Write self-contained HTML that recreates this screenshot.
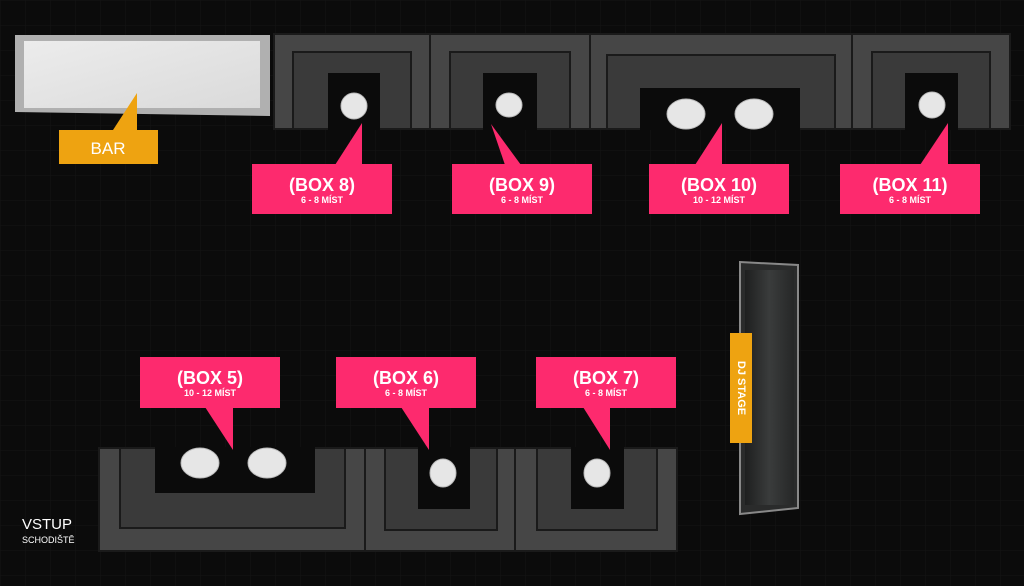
<!DOCTYPE html>
<html><head><meta charset="utf-8"><style>
html,body{margin:0;padding:0;background:#0b0b0b;}
body{width:1024px;height:586px;overflow:hidden;position:relative;font-family:"Liberation Sans","DejaVu Sans",sans-serif;}
svg{position:absolute;left:0;top:0;}
</style></head><body>
<svg width="1024" height="586" viewBox="0 0 1024 586" xmlns="http://www.w3.org/2000/svg">
<defs>
<pattern id="g" width="25" height="25" patternUnits="userSpaceOnUse">
<path d="M25 0H0V25" fill="none" stroke="#151515" stroke-width="1"/>
</pattern>
<linearGradient id="bar" x1="0" y1="0" x2="1" y2="1">
<stop offset="0" stop-color="#ececec"/><stop offset="1" stop-color="#dadada"/>
</linearGradient>
<linearGradient id="dj" x1="0" y1="0" x2="1" y2="0">
<stop offset="0" stop-color="#1e1f1f"/><stop offset="0.5" stop-color="#3a3c3c"/><stop offset="1" stop-color="#262727"/>
</linearGradient>
</defs>
<rect width="1024" height="586" fill="#0b0b0b"/>
<rect width="1024" height="586" fill="url(#g)"/>

<!-- BAR -->
<polygon points="15,35 270,35 270,116 15,112" fill="#b0b0b0"/>
<rect x="24" y="41" width="236" height="67" fill="url(#bar)"/>

<!-- top sofas -->
<g stroke="#1a1a1a" stroke-width="2">
<rect x="274" y="34" width="156" height="95" fill="#464646"/>
<rect x="293" y="52" width="118" height="77" fill="#3a3a3a"/>
<rect x="430" y="34" width="160" height="95" fill="#464646"/>
<rect x="450" y="52" width="120" height="77" fill="#3a3a3a"/>
<rect x="590" y="34" width="262" height="95" fill="#464646"/>
<rect x="607" y="55" width="228" height="74" fill="#3a3a3a"/>
<rect x="852" y="34" width="158" height="95" fill="#464646"/>
<rect x="872" y="52" width="118" height="77" fill="#3a3a3a"/>
</g>
<rect x="328" y="73" width="52" height="57" fill="#0b0b0b"/>
<rect x="483" y="73" width="54" height="57" fill="#0b0b0b"/>
<rect x="640" y="88" width="160" height="42" fill="#0b0b0b"/>
<rect x="905" y="73" width="53" height="57" fill="#0b0b0b"/>

<!-- bottom sofas -->
<g stroke="#1a1a1a" stroke-width="2">
<rect x="99" y="448" width="266" height="103" fill="#464646"/>
<rect x="120" y="448" width="225" height="80" fill="#3a3a3a"/>
<rect x="365" y="448" width="150" height="103" fill="#464646"/>
<rect x="385" y="448" width="112" height="82" fill="#3a3a3a"/>
<rect x="515" y="448" width="162" height="103" fill="#464646"/>
<rect x="537" y="448" width="120" height="82" fill="#3a3a3a"/>
</g>
<rect x="155" y="447" width="160" height="46" fill="#0b0b0b"/>
<rect x="418" y="447" width="52" height="62" fill="#0b0b0b"/>
<rect x="571" y="447" width="53" height="62" fill="#0b0b0b"/>

<!-- tables -->
<g fill="#e6e6e6" stroke="#bbb" stroke-width="1">
<circle cx="354" cy="106" r="13"/>
<ellipse cx="509" cy="105" rx="13" ry="12"/>
<ellipse cx="686" cy="114" rx="19" ry="15"/>
<ellipse cx="754" cy="114" rx="19" ry="15"/>
<circle cx="932" cy="105" r="13"/>
<ellipse cx="200" cy="463" rx="19" ry="15"/>
<ellipse cx="267" cy="463" rx="19" ry="15"/>
<ellipse cx="443" cy="473" rx="13" ry="14"/>
<ellipse cx="597" cy="473" rx="13" ry="14"/>
</g>

<!-- DJ stage -->
<polygon points="740,262 798,265 798,508 740,514" fill="#2a2b2b" stroke="#888" stroke-width="2"/>
<rect x="745" y="270" width="49" height="235" fill="url(#dj)"/>
<rect x="730" y="333" width="22" height="110" fill="#eea311"/>
<text x="741" y="388" fill="#fff" font-size="11" font-weight="bold" text-anchor="middle" transform="rotate(90 741 388)" dominant-baseline="middle">DJ STAGE</text>

<!-- BAR label -->
<polygon points="113,130 137,130 137,93" fill="#eea311"/>
<rect x="59" y="130" width="99" height="34" fill="#eea311"/>
<text x="108" y="154" fill="#fff" font-size="17" text-anchor="middle">BAR</text>

<g fill="#fd2a6e">
<rect x="252" y="164" width="140" height="50"/><polygon points="335,165 362,165 362,123"/>
<rect x="452" y="164" width="140" height="50"/><polygon points="491,124 505,165 521,165"/>
<rect x="649" y="164" width="140" height="50"/><polygon points="695,165 722,165 722,123"/>
<rect x="840" y="164" width="140" height="50"/><polygon points="920,165 948,165 948,123"/>
<rect x="140" y="357" width="140" height="51"/><polygon points="205,407 233,407 233,450"/>
<rect x="336" y="357" width="140" height="51"/><polygon points="401,407 429,407 429,450"/>
<rect x="536" y="357" width="140" height="51"/><polygon points="583,407 610,407 610,450"/>
</g>
<g fill="#fff" font-weight="bold" text-anchor="middle">
<text x="322" y="191" font-size="18">(BOX 8)</text><text x="322" y="203" font-size="9">6 - 8 MÍST</text>
<text x="522" y="191" font-size="18">(BOX 9)</text><text x="522" y="203" font-size="9">6 - 8 MÍST</text>
<text x="719" y="191" font-size="18">(BOX 10)</text><text x="719" y="203" font-size="9">10 - 12 MÍST</text>
<text x="910" y="191" font-size="18">(BOX 11)</text><text x="910" y="203" font-size="9">6 - 8 MÍST</text>
<text x="210" y="384" font-size="18">(BOX 5)</text><text x="210" y="396" font-size="9">10 - 12 MÍST</text>
<text x="406" y="384" font-size="18">(BOX 6)</text><text x="406" y="396" font-size="9">6 - 8 MÍST</text>
<text x="606" y="384" font-size="18">(BOX 7)</text><text x="606" y="396" font-size="9">6 - 8 MÍST</text>
</g>
<text x="22" y="529" fill="#fff" font-size="15">VSTUP</text>
<text x="22" y="543" fill="#fff" font-size="9">SCHODIŠTĚ</text>
</svg>
</body></html>
